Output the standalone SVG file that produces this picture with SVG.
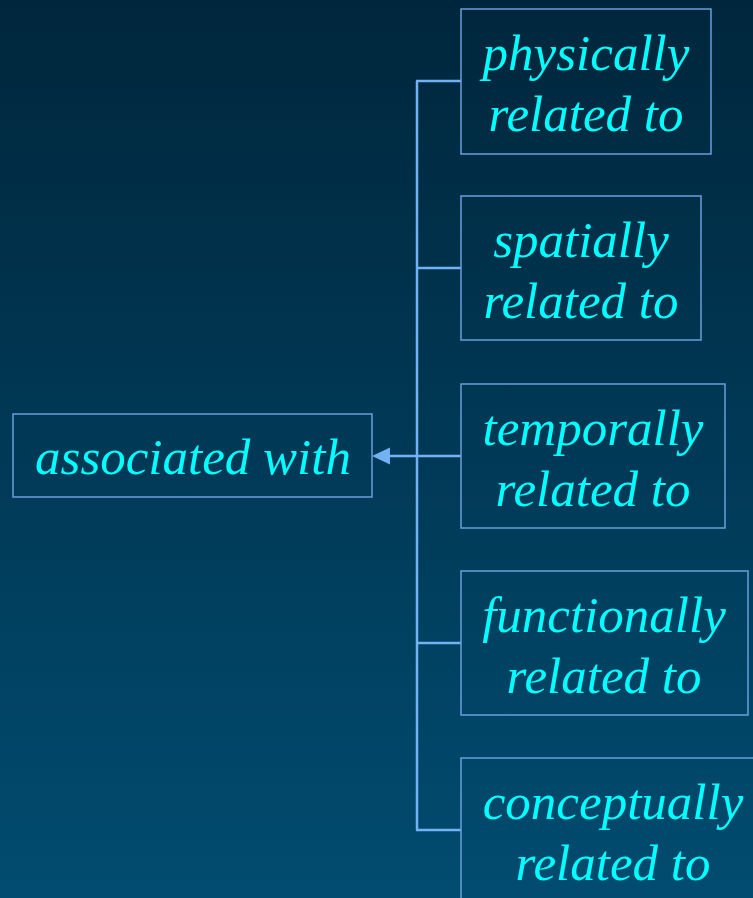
<svg xmlns="http://www.w3.org/2000/svg" width="753" height="898" viewBox="0 0 753 898">
  <defs>
    <linearGradient id="bg" x1="0" y1="0" x2="0" y2="1">
      <stop offset="0" stop-color="#00263c"/>
      <stop offset="1" stop-color="#014c70"/>
    </linearGradient>
    <style>
      .box { fill: none; stroke: #6a9fdc; stroke-width: 1.5; }
      .lbl { font-family: 'Liberation Serif', 'Times New Roman', Times, serif; font-style: italic; font-size: 51px; fill: #00ffff; text-anchor: middle; }
      .conn { fill: none; stroke: #72b2f4; stroke-width: 2.5; }
    </style>
  </defs>

  <rect width="753" height="898" fill="url(#bg)"/>

  <g id="connectors">
    <line class="conn" x1="417" y1="81" x2="417" y2="830"/>
    <line class="conn" x1="416" y1="81" x2="461" y2="81"/>
    <line class="conn" x1="416" y1="268" x2="461" y2="268"/>
    <line class="conn" x1="416" y1="643" x2="461" y2="643"/>
    <line class="conn" x1="416" y1="830" x2="461" y2="830"/>
    <line class="conn" x1="461" y1="456" x2="390" y2="456"/>
    <path d="M372,456 L390,447.5 L390,464.5 Z" fill="#72b2f4"/>
  </g>

  <g id="associated-with">
    <rect class="box" x="13" y="414" width="359" height="83"/>
    <text class="lbl" x="193" y="474" font-family="Liberation Serif">associated with</text>
  </g>

  <g id="physically-related-to">
    <rect class="box" x="461" y="9" width="250" height="145"/>
    <text class="lbl" x="586" y="70" font-family="Liberation Serif">physically</text>
    <text class="lbl" x="586" y="131" font-family="Liberation Serif">related to</text>
  </g>

  <g id="spatially-related-to">
    <rect class="box" x="461" y="196" width="240" height="144"/>
    <text class="lbl" x="581" y="257" font-family="Liberation Serif">spatially</text>
    <text class="lbl" x="581" y="318" font-family="Liberation Serif">related to</text>
  </g>

  <g id="temporally-related-to">
    <rect class="box" x="461" y="384" width="264" height="144"/>
    <text class="lbl" x="593" y="445" font-family="Liberation Serif">temporally</text>
    <text class="lbl" x="593" y="506" font-family="Liberation Serif">related to</text>
  </g>

  <g id="functionally-related-to">
    <rect class="box" x="461" y="571" width="287" height="144"/>
    <text class="lbl" x="604" y="632" font-family="Liberation Serif">functionally</text>
    <text class="lbl" x="604" y="693" font-family="Liberation Serif">related to</text>
  </g>

  <g id="conceptually-related-to">
    <rect class="box" x="461" y="758" width="300" height="145"/>
    <text class="lbl" x="613" y="819" font-family="Liberation Serif">conceptually</text>
    <text class="lbl" x="613" y="880" font-family="Liberation Serif">related to</text>
  </g>
</svg>
